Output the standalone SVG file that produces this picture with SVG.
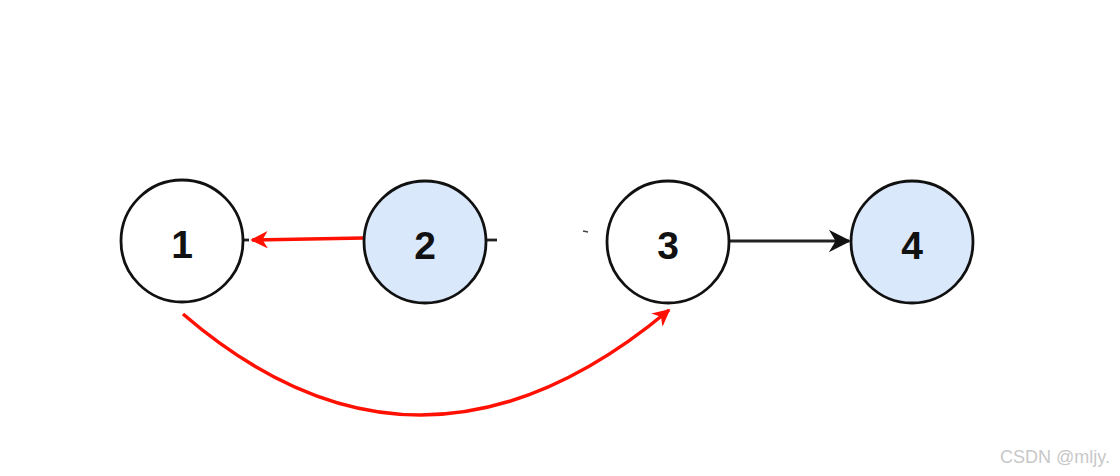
<svg xmlns="http://www.w3.org/2000/svg" width="1120" height="476" viewBox="0 0 1120 476">
<style>
.node{stroke:#111;stroke-width:2.8}
.plain{fill:#fff}
.blue{fill:#dae8fc}
.lbl{font-family:"Liberation Sans",Arial,sans-serif;font-weight:bold;font-size:39px;fill:#111;text-anchor:middle}
.red{stroke:#ff1000;stroke-width:3.5;fill:none}
.blk{stroke:#222;stroke-width:2.8;fill:none}
</style>
<defs>
<marker id="ar" viewBox="0 0 10 10" refX="9" refY="5" markerWidth="5" markerHeight="5" orient="auto" markerUnits="strokeWidth">
<path d="M0,0 L10,5 L0,10 L3,5 Z" fill="#ff1000"/>
</marker>
<marker id="ab" viewBox="0 0 10 10" refX="9" refY="5" markerWidth="8" markerHeight="8" orient="auto" markerUnits="strokeWidth">
<path d="M0,0 L10,5 L0,10 L3,5 Z" fill="#111"/>
</marker>
</defs>
<rect width="1120" height="476" fill="#fff"/>
<g id="connectors">
<line x1="243" y1="240" x2="249" y2="240" class="blk"/>
<line x1="486" y1="240" x2="497" y2="240" class="blk"/>
<line x1="583" y1="231" x2="588" y2="232" stroke="#444" stroke-width="1.5"/>
<line x1="364" y1="238" x2="252" y2="240" class="red" marker-end="url(#ar)"/>
<line x1="730" y1="241" x2="849" y2="241" class="blk" marker-end="url(#ab)"/>
<path d="M183,314 Q420,518 669,310" class="red" marker-end="url(#ar)"/>
</g>
<g id="node1"><circle cx="182" cy="241" r="61" class="node plain"/><text x="182" y="258" class="lbl">1</text></g>
<g id="node2"><circle cx="425" cy="242" r="61" class="node blue"/><text x="425" y="259" class="lbl">2</text></g>
<g id="node3"><circle cx="668" cy="242" r="61" class="node plain"/><text x="668" y="259" class="lbl">3</text></g>
<g id="node4"><circle cx="912" cy="242" r="61" class="node blue"/><text x="912" y="259" class="lbl">4</text></g>
<text x="1110" y="463" text-anchor="end" font-family="'Liberation Sans',Arial,sans-serif" font-size="18" fill="#c8c8c8">CSDN @mljy.</text>
</svg>
